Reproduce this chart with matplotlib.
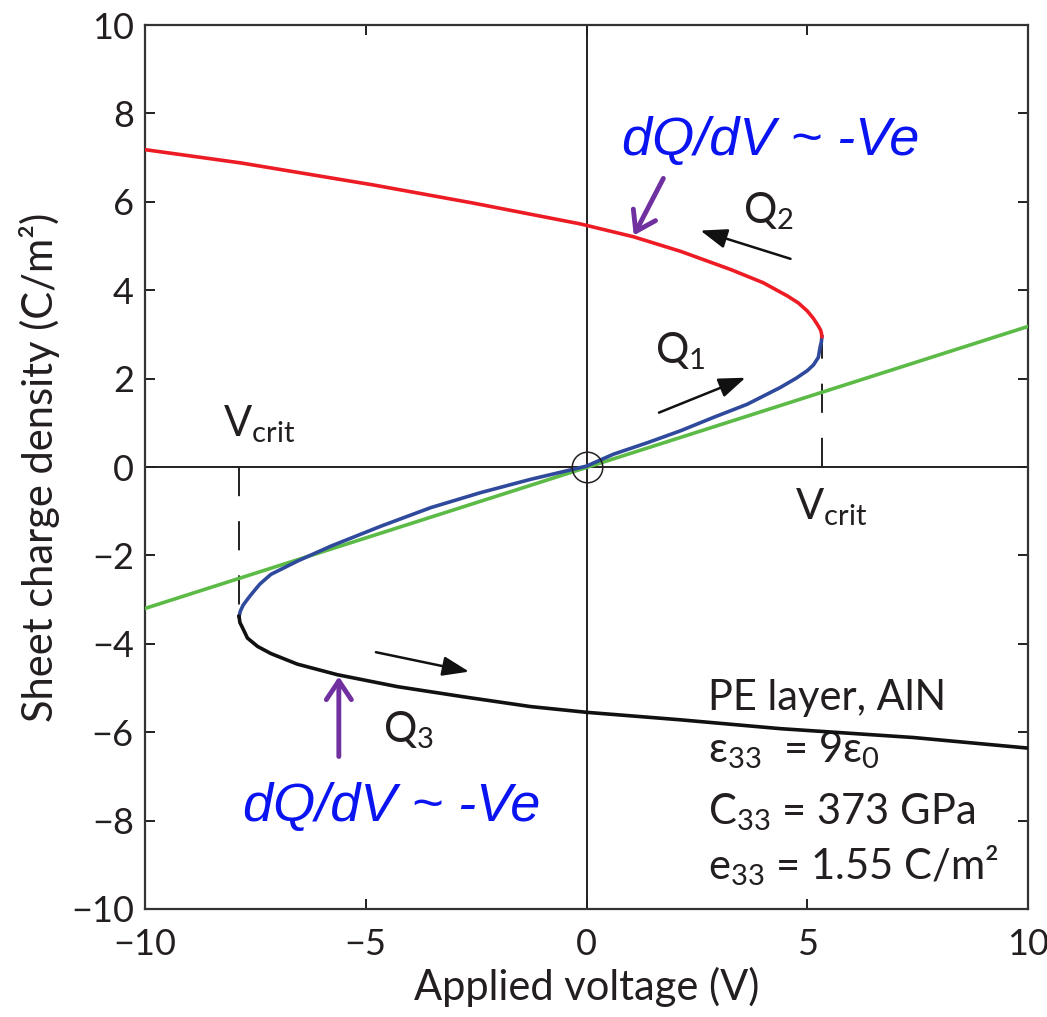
"""
plot.py

S-shaped charge/voltage curve of a piezoelectric (AlN) layer.
"""

import matplotlib.pyplot as plt

plt.rcParams['font.family'] = ['Lato', 'DejaVu Sans']
plt.rcParams['mathtext.fontset'] = 'custom'
plt.rcParams['mathtext.rm'] = 'Lato'
plt.rcParams['mathtext.it'] = 'Lato:italic'
plt.rcParams['lines.scale_dashes'] = False

# Q2 branch (red, upper)
q2_v = [-10.0, -7.83, -4.82, -2.56, -0.14, 1.06, 2.13, 3.26, 4.00, 4.55,
        4.80, 5.00, 5.14, 5.25, 5.30, 5.32, 5.33]
q2_q = [7.18, 6.88, 6.38, 5.97, 5.50, 5.21, 4.88, 4.47, 4.17, 3.87,
        3.71, 3.53, 3.36, 3.19, 3.10, 3.03, 2.95]

# Q1 branch (blue, middle)
q1_v = [5.33, 5.32, 5.29, 5.25, 5.14, 5.00, 4.75, 4.39, 3.64, 2.87, 2.13,
        1.38, 0.61, 0.0, -1.27, -2.40, -3.53, -4.66, -5.79, -6.55, -7.15,
        -7.40, -7.60, -7.70, -7.78, -7.84, -7.87]
q1_q = [2.95, 2.84, 2.71, 2.48, 2.31, 2.18, 2.01, 1.80, 1.42, 1.12, 0.82,
        0.55, 0.29, 0.02, -0.28, -0.58, -0.92, -1.34, -1.79, -2.13, -2.43,
        -2.65, -2.89, -3.02, -3.13, -3.26, -3.38]

# Q3 branch (black, lower)
q3_v = [-7.87, -7.85, -7.79, -7.68, -7.45, -7.15, -6.55, -5.64, -4.28,
        -2.78, -1.27, 0.0, 2.13, 4.39, 7.40, 10.0]
q3_q = [-3.38, -3.52, -3.64, -3.87, -4.06, -4.22, -4.46, -4.70, -4.97,
        -5.20, -5.42, -5.55, -5.72, -5.92, -6.12, -6.36]

# linear (green) reference
lin_v = [-10.0, 10.0]
lin_q = [-3.2, 3.18]

# critical voltages and the charge at the turning points
vcrit = [5.33, -7.87]
qcrit = [2.95, -3.38]

xticks = [-10, -5, 0, 5, 10]
yticks = list(range(-10, 11, 2))

RED = '#ED1C24'
BLUE = '#2F4A9C'
GREEN = '#5CBB47'
DARK = '#231F20'
PURPLE = '#7030A0'
ANNOT = '#0A14F0'


def main():
    """ Main function """
    fig = plt.figure(figsize=(10.47, 10.17), dpi=100)
    ax = fig.add_axes([0.1385, 0.1062, 0.8434, 0.8692])

    ax.axhline(0, color=DARK, lw=1.4, zorder=1)
    ax.axvline(0, color=DARK, lw=1.4, zorder=1)

    # dashed lines at the critical voltages
    for v, q in zip(vcrit, qcrit):
        ax.plot([v, v], [0, q], color=DARK, lw=1.4,
                linestyle=(0, (21, 18)), zorder=2)

    ax.plot(lin_v, lin_q, color=GREEN, lw=2.6, zorder=3)
    ax.plot(q1_v, q1_q, color=BLUE, lw=2.6, zorder=4,
            solid_joinstyle='round')
    ax.plot(q2_v, q2_q, color=RED, lw=2.6, zorder=4,
            solid_joinstyle='round')
    ax.plot(q3_v, q3_q, color='#111111', lw=2.6, zorder=4,
            solid_joinstyle='round')

    # circle at origin
    ax.plot([0], [0], 'o', ms=22, mfc='none', mec=DARK, mew=1.1, zorder=5)

    # direction arrows
    black_arrow = dict(arrowstyle='-|>,head_length=0.65,head_width=0.24',
                       mutation_scale=25, lw=1.8, color='#111111',
                       shrinkA=0, shrinkB=0)
    ax.annotate('', xy=(2.58, 5.35), xytext=(4.62, 4.71),
                arrowprops=black_arrow)
    ax.annotate('', xy=(3.60, 2.02), xytext=(1.64, 1.23),
                arrowprops=black_arrow)
    ax.annotate('', xy=(-2.66, -4.63), xytext=(-4.77, -4.19),
                arrowprops=black_arrow)

    purple_arrow = dict(arrowstyle='->,head_length=0.45,head_width=0.3',
                        mutation_scale=30, lw=3.5, color=PURPLE,
                        shrinkA=0, shrinkB=0)
    ax.annotate('', xy=(1.07, 5.24), xytext=(1.74, 6.53),
                arrowprops=purple_arrow)
    ax.annotate('', xy=(-5.61, -4.74), xytext=(-5.61, -6.55),
                arrowprops=purple_arrow)

    # labels on the plot
    ax.text(3.55, 5.51, r'$\mathregular{Q_2}$', fontsize=30, color=DARK)
    ax.text(1.56, 2.34, r'$\mathregular{Q_1}$', fontsize=30, color=DARK)
    ax.text(-4.62, -6.23, r'$\mathregular{Q_3}$', fontsize=30, color=DARK)
    ax.text(-8.24, 0.70, r'$\mathregular{V_{crit}}$', fontsize=30, color=DARK)
    ax.text(4.73, -1.18, r'$\mathregular{V_{crit}}$', fontsize=30, color=DARK)

    ax.text(0.81, 7.05, 'dQ/dV ~ -Ve', fontsize=39, color=ANNOT,
            family='Liberation Sans', style='italic')
    ax.text(-7.78, -8.0, 'dQ/dV ~ -Ve', fontsize=39, color=ANNOT,
            family='Liberation Sans', style='italic')

    ax.text(2.74, -5.5, 'PE layer, AlN', fontsize=30, color=DARK)
    ax.text(2.74, -6.68, r'$\mathregular{ε_{33}}$  = 9$\mathregular{ε_0}$',
            fontsize=30, color=DARK)
    ax.text(2.74, -8.09, r'$\mathregular{C_{33}}$ = 373 GPa',
            fontsize=30, color=DARK)
    ax.text(2.74, -9.34, r'$\mathregular{e_{33}}$ = 1.55 C/m²',
            fontsize=30, color=DARK)

    ax.set_xlim(-10, 10)
    ax.set_ylim(-10, 10)
    ax.set_xticks(xticks)
    ax.set_yticks(yticks)
    ax.tick_params(direction='in', length=7, width=1.4, top=True,
                   right=True, labelsize=26, labelcolor=DARK, color=DARK)
    ax.tick_params(axis='x', pad=14)
    ax.tick_params(axis='y', pad=8)
    for s in ax.spines.values():
        s.set_linewidth(1.6)
        s.set_color('#333333')

    ax.set_xlabel('Applied voltage (V)', fontsize=30, color=DARK, labelpad=4)
    ax.set_ylabel('Sheet charge density (C/m²)', fontsize=30, color=DARK,
                  labelpad=8)

    fig.savefig('out.png', dpi=100)


if __name__ == '__main__':
    main()
